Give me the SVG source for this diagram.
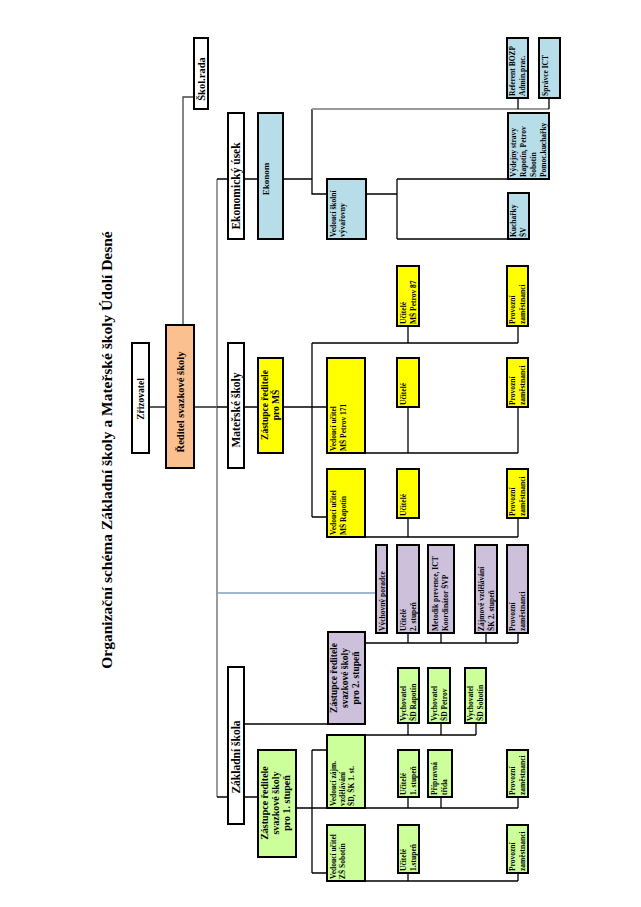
<svg xmlns="http://www.w3.org/2000/svg" width="641" height="907" viewBox="0 0 641 907">
<style>
text{font-family:"Liberation Serif","Times New Roman",serif;font-weight:bold;fill:#000}
.b{stroke:#000;stroke-width:2}
.w{fill:#fff}.o{fill:#fac090}.bl{fill:#b7dde8}.y{fill:#ffff00}.p{fill:#ccc0da}.g{fill:#ccff99}
.s{font-size:7.5px}
.m{font-size:9.5px;text-anchor:middle}
.l{font-size:11.5px;text-anchor:middle}
.c line,.c path{stroke:#000;stroke-width:1.3;fill:none}
</style>
<rect width="641" height="907" fill="#fff"/>
<text transform="translate(112,450) rotate(-90)" style="font-size:15.5px;text-anchor:middle">Organizační schéma Základní školy a Mateřské školy Údolí Desné</text>
<g class="c" id="connectors">
<path d="M149 407H166"/>
<path d="M183 325V97H194" style="stroke:#444"/>
<path d="M194 407H217"/>
<path d="M217 179V797" style="stroke:#666"/>
<path d="M217 179H228M244 179H258M283 179H312"/>
<path d="M312 109V194H327"/>
<path d="M312 109H549" style="stroke:#999;stroke-width:2"/>
<path d="M518 98V109M549 98V109"/>
<path d="M366 194H397M397 179V239M397 179H508M397 239H508"/>
<path d="M217 407H228M244 407H258M283 407H312M312 343V517M312 343H518M408 326V343M518 326V343M312 407H327M312 517H327"/>
<path d="M365 453H518M408 407V453M518 407V453"/>
<path d="M365 537H518M408 518V537M518 518V537"/>
<path d="M217 593H376" style="stroke:#7f9fc0"/>
<path d="M244 724H328"/>
<path d="M365 643H518M408 633V643M441 633V643M486 633V643M518 633V643"/>
<path d="M217 797H228M244 797H258M296 808H518M408 797V808M441 797V808M518 797V808"/>
<path d="M312 750V873M312 750H327M312 873H327"/>
<path d="M365 735H476M408 723V735M441 723V735M476 723V735"/>
<path d="M365 881H518M408 873V881M518 873V881"/>
</g>
<g id="zrizovatel"><rect class="b w" x="132" y="343" width="17" height="110"/><text class="m" style="font-size:9.5px" transform="translate(144,399) rotate(-90)">Zřizovatel</text></g>
<g id="reditel"><rect class="b o" x="166" y="325" width="28" height="143"/><text class="m" style="font-size:10.5px" transform="translate(184,402) rotate(-90)">Ředitel svazkové školy</text></g>
<g id="skolrada"><rect class="b w" x="194" y="38" width="14" height="71"/><text class="m" style="font-size:10.5px" transform="translate(205,79) rotate(-90)">Škol.rada</text></g>
<g id="ekonomicky"><rect class="b w" x="228" y="113" width="16" height="126"/><text class="l" transform="translate(240,186) rotate(-90)">Ekonomický úsek</text></g>
<g id="ekonom"><rect class="b bl" x="258" y="113" width="25" height="126"/><text class="m" style="font-size:9px" transform="translate(269,179) rotate(-90)">Ekonom</text></g>
<g id="vedouci-sv"><rect class="b bl" x="327" y="179" width="39" height="60"/><text class="s" transform="translate(336,237) rotate(-90)">Vedoucí školní</text><text class="s" transform="translate(345,237) rotate(-90)">vývařovny</text></g>
<g id="vydejny"><rect class="b bl" x="508" y="113" width="41" height="66"/><text class="s" transform="translate(516,177) rotate(-90)">Výdejny stravy</text><text class="s" transform="translate(526,177) rotate(-90)">Rapotín, Petrov</text><text class="s" transform="translate(536,177) rotate(-90)">Sobotín</text><text class="s" transform="translate(546,177) rotate(-90)">Pomoc.kuchařky</text></g>
<g id="kucharky"><rect class="b bl" x="508" y="193" width="21" height="46"/><text class="s" transform="translate(516,237) rotate(-90)">Kuchařky</text><text class="s" transform="translate(526,237) rotate(-90)">ŠV</text></g>
<g id="referent"><rect class="b bl" x="507" y="38" width="21" height="60"/><text class="s" transform="translate(515,96) rotate(-90)">Referent BOZP</text><text class="s" transform="translate(525,96) rotate(-90)">Admin.prac.</text></g>
<g id="spravce"><rect class="b bl" x="539" y="38" width="21" height="60"/><text class="s" transform="translate(548,96) rotate(-90)">Správce ICT</text></g>
<g id="materske"><rect class="b w" x="228" y="343" width="16" height="125"/><text class="l" transform="translate(240,410) rotate(-90)">Mateřské školy</text></g>
<g id="zastupce-ms"><rect class="b y" x="258" y="358" width="25" height="95"/><text class="m" transform="translate(268,405) rotate(-90)">Zástupce ředitele</text><text class="m" transform="translate(279,405) rotate(-90)">pro MŠ</text></g>
<g id="ved-p171"><rect class="b y" x="327" y="358" width="38" height="95"/><text class="s" transform="translate(336,451) rotate(-90)">Vedoucí učitel</text><text class="s" transform="translate(346,451) rotate(-90)">MŠ Petrov 171</text></g>
<g id="uc-p87"><rect class="b y" x="397" y="266" width="22" height="60"/><text class="s" transform="translate(406,324) rotate(-90)">Učitelé</text><text class="s" transform="translate(416,324) rotate(-90)">MŠ Petrov 87</text></g>
<g id="pz-p87"><rect class="b y" x="507" y="266" width="21" height="60"/><text class="s" transform="translate(515,324) rotate(-90)">Provozní</text><text class="s" transform="translate(525,324) rotate(-90)">zaměstnanci</text></g>
<g id="uc-p171"><rect class="b y" x="397" y="358" width="22" height="49"/><text class="s" transform="translate(406,405) rotate(-90)">Učitelé</text></g>
<g id="pz-p171"><rect class="b y" x="507" y="358" width="21" height="49"/><text class="s" transform="translate(515,405) rotate(-90)">Provozní</text><text class="s" transform="translate(525,405) rotate(-90)">zaměstnanci</text></g>
<g id="ved-rap"><rect class="b y" x="327" y="469" width="38" height="68"/><text class="s" transform="translate(336,535) rotate(-90)">Vedoucí učitel</text><text class="s" transform="translate(346,535) rotate(-90)">MŠ Rapotín</text></g>
<g id="uc-rap"><rect class="b y" x="397" y="469" width="22" height="49"/><text class="s" transform="translate(406,516) rotate(-90)">Učitelé</text></g>
<g id="pz-rap"><rect class="b y" x="507" y="469" width="21" height="49"/><text class="s" transform="translate(515,516) rotate(-90)">Provozní</text><text class="s" transform="translate(525,516) rotate(-90)">zaměstnanci</text></g>
<g id="vych-poradce"><rect class="b p" x="376" y="545" width="11" height="88"/><text class="s" transform="translate(385,631) rotate(-90)">Výchovný poradce</text></g>
<g id="uc-2st"><rect class="b p" x="397" y="545" width="22" height="88"/><text class="s" transform="translate(406,631) rotate(-90)">Učitelé</text><text class="s" transform="translate(416,631) rotate(-90)">2. stupeň</text></g>
<g id="metodik"><rect class="b p" x="428" y="545" width="26" height="88"/><text class="s" transform="translate(438,631) rotate(-90)">Metodik prevence, ICT</text><text class="s" transform="translate(448,631) rotate(-90)">Koordinátor  ŠVP</text></g>
<g id="zajmove2"><rect class="b p" x="475" y="545" width="22" height="88"/><text class="s" transform="translate(484,631) rotate(-90)">Zájmové vzdělávání</text><text class="s" transform="translate(494,631) rotate(-90)">ŠK 2. stupeň</text></g>
<g id="pz-2st"><rect class="b p" x="507" y="545" width="21" height="88"/><text class="s" transform="translate(515,631) rotate(-90)">Provozní</text><text class="s" transform="translate(525,631) rotate(-90)">zaměstnanci</text></g>
<g id="zastupce-2"><rect class="b p" x="328" y="632" width="37" height="92"/><text class="m" transform="translate(337,678) rotate(-90)">Zástupce ředitele</text><text class="m" transform="translate(348,678) rotate(-90)">svazkové školy</text><text class="m" transform="translate(359,678) rotate(-90)">pro 2. stupeň</text></g>
<g id="zakladni"><rect class="b w" x="228" y="667" width="16" height="157"/><text class="l" transform="translate(240,757) rotate(-90)">Základní škola</text></g>
<g id="zastupce-1"><rect class="b g" x="258" y="750" width="38" height="107"/><text class="m" style="font-size:10px" transform="translate(268,803) rotate(-90)">Zástupce ředitele</text><text class="m" style="font-size:10px" transform="translate(279,803) rotate(-90)">svazkové školy</text><text class="m" style="font-size:10px" transform="translate(290,803) rotate(-90)">pro 1. stupeň</text></g>
<g id="ved-zajm"><rect class="b g" x="327" y="735" width="38" height="73"/><text class="s" transform="translate(336,806) rotate(-90)">Vedoucí zájm.</text><text class="s" transform="translate(345,806) rotate(-90)">vzdělávání</text><text class="s" transform="translate(354,806) rotate(-90)">ŠD, ŠK 1. st.</text></g>
<g id="vych-rap"><rect class="b g" x="398" y="668" width="21" height="55"/><text class="s" transform="translate(406,721) rotate(-90)">Vychovatel</text><text class="s" transform="translate(416,721) rotate(-90)">ŠD Rapotín</text></g>
<g id="vych-pet"><rect class="b g" x="428" y="668" width="22" height="55"/><text class="s" transform="translate(437,721) rotate(-90)">Vychovatel</text><text class="s" transform="translate(447,721) rotate(-90)">ŠD Petrov</text></g>
<g id="vych-sob"><rect class="b g" x="465" y="668" width="21" height="55"/><text class="s" transform="translate(473,721) rotate(-90)">Vychovatel</text><text class="s" transform="translate(483,721) rotate(-90)">ŠD Sobotín</text></g>
<g id="uc-1st"><rect class="b g" x="398" y="750" width="21" height="47"/><text class="s" transform="translate(406,795) rotate(-90)">Učitelé</text><text class="s" transform="translate(416,795) rotate(-90)">1. stupeň</text></g>
<g id="pripravna"><rect class="b g" x="428" y="750" width="24" height="47"/><text class="s" transform="translate(437,795) rotate(-90)">Přípravná</text><text class="s" transform="translate(447,795) rotate(-90)">třída</text></g>
<g id="pz-1st"><rect class="b g" x="507" y="750" width="21" height="47"/><text class="s" transform="translate(515,795) rotate(-90)">Provozní</text><text class="s" transform="translate(525,795) rotate(-90)">zaměstnanci</text></g>
<g id="ved-sob"><rect class="b g" x="327" y="825" width="38" height="56"/><text class="s" transform="translate(336,879) rotate(-90)">Vedoucí učitel</text><text class="s" transform="translate(345,879) rotate(-90)">ZŠ Sobotín</text></g>
<g id="uc-1st-sob"><rect class="b g" x="398" y="825" width="21" height="48"/><text class="s" transform="translate(406,871) rotate(-90)">Učitelé</text><text class="s" transform="translate(416,871) rotate(-90)">1.stupeň</text></g>
<g id="pz-sob"><rect class="b g" x="507" y="825" width="21" height="48"/><text class="s" transform="translate(515,871) rotate(-90)">Provozní</text><text class="s" transform="translate(525,871) rotate(-90)">zaměstnanci</text></g>
</svg>
